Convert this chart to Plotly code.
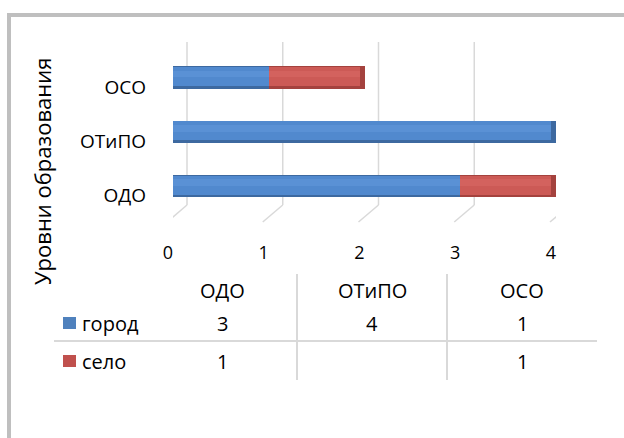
import plotly.graph_objects as go

# --- data -------------------------------------------------------------
levels = ["ОДО", "ОТиПО", "ОСО"]          # уровни образования
series_names = ["город", "село"]
city = [3, 4, 1]
village = [1, None, 1]
x_ticks = [0, 1, 2, 3, 4]

# --- canvas -----------------------------------------------------------
W, H = 624, 438
FONT = "Open Sans"
TXT = "#000000"


def px(x):
    return x / W


def py(y):
    return 1 - y / H


# shades for the cylinder look: dark lower rim, body, soft highlight
blue = ("#3D69A0", "#5189CE", "#5A91D5")
red = ("#A4423E", "#CC5A56", "#D3625E")
swatch = ["#4F81BD", "#C0504D"]

ys = list(range(len(levels)))
village_vals = [v if v is not None else 0 for v in village]
CAP = 0.05  # length of the shaded end cap, in axis units

fig = go.Figure()


def cylinder(values, base, shades, is_last):
    dark, body, light = shades
    ends = [b + v for b, v in zip(base, values)]
    fig.add_trace(go.Bar(y=ys, x=values, base=base, orientation="h",
                         width=0.41, offset=-0.21, marker_color=dark,
                         marker_line_width=0, hoverinfo="skip"))
    fig.add_trace(go.Bar(y=ys, x=values, base=base, orientation="h",
                         width=0.35, offset=-0.16, marker_color=body,
                         marker_line_width=0, hoverinfo="skip"))
    fig.add_trace(go.Bar(y=ys, x=values, base=base, orientation="h",
                         width=0.12, offset=0.0, marker_color=light,
                         marker_line_width=0, hoverinfo="skip"))
    # darker rim where the stacked cylinder ends
    cap_len = [CAP if (v and last) else 0 for v, last in zip(values, is_last)]
    cap_base = [e - c for e, c in zip(ends, cap_len)]
    fig.add_trace(go.Bar(y=ys, x=cap_len, base=cap_base, orientation="h",
                         width=0.41, offset=-0.21, marker_color=dark,
                         marker_line_width=0, hoverinfo="skip"))


cylinder(city, [0] * len(city), blue, [not v for v in village_vals])
cylinder(village_vals, city, red, [True] * len(village_vals))

# back-wall gridlines and floor edges (3-D look), anchored to the x values
shapes = []
for v in x_ticks:
    shapes.append(dict(type="line", xref="x", yref="paper",
                       xsizemode="pixel", xanchor=v, x0=14, x1=14,
                       y0=py(42), y1=py(205),
                       line=dict(color="#D9D9D9", width=1.5), layer="below"))
    shapes.append(dict(type="line", xref="x", yref="paper",
                       xsizemode="pixel", xanchor=v, x0=14, x1=-6,
                       y0=py(205), y1=py(222),
                       line=dict(color="#D9D9D9", width=1.5), layer="below"))

# chart frame
shapes.append(dict(type="rect", xref="paper", yref="paper",
                   x0=px(9), y0=py(15), x1=1.05, y1=-0.05,
                   line=dict(color="#BFBFBF", width=4)))

# data table lines
shapes.append(dict(type="line", xref="paper", yref="paper",
                   x0=px(54), x1=px(597), y0=py(341), y1=py(341),
                   line=dict(color="#D9D9D9", width=2)))
for sx in (297, 447):
    shapes.append(dict(type="line", xref="paper", yref="paper",
                       x0=px(sx), x1=px(sx), y0=py(274), y1=py(380),
                       line=dict(color="#D9D9D9", width=2)))

TABLE_FONT = dict(family=FONT, size=20, color=TXT)

annotations = []
col_x = [222, 372, 522]
for cx, name in zip(col_x, levels):
    annotations.append(dict(x=px(cx), y=py(290), xref="paper", yref="paper",
                            xanchor="center", yanchor="middle",
                            text=name, showarrow=False, font=TABLE_FONT))

row_y = [323, 361]
rows = [city, village]
for ry, name, vals, col in zip(row_y, series_names, rows, swatch):
    shapes.append(dict(type="rect", xref="paper", yref="paper",
                       x0=px(63), x1=px(76), y0=py(ry - 6), y1=py(ry + 6),
                       fillcolor=col, line_width=0))
    annotations.append(dict(x=px(80), y=py(ry), xref="paper", yref="paper",
                            xanchor="left", yanchor="middle",
                            text=name, showarrow=False, font=TABLE_FONT))
    for cx, v in zip(col_x, vals):
        if v is None:
            continue
        annotations.append(dict(x=px(cx), y=py(ry), xref="paper", yref="paper",
                                xanchor="center", yanchor="middle",
                                text=str(v), showarrow=False, font=TABLE_FONT))

# axis title
annotations.append(dict(x=px(42), y=py(172), xref="paper", yref="paper",
                        xanchor="center", yanchor="middle",
                        text="Уровни образования", showarrow=False,
                        textangle=-90,
                        font=dict(family=FONT, size=22, color=TXT)))

fig.update_layout(
    width=W, height=H,
    margin=dict(l=0, r=0, t=0, b=0),
    paper_bgcolor="white", plot_bgcolor="rgba(0,0,0,0)",
    barmode="overlay", bargap=0,
    showlegend=False,
    shapes=shapes,
    annotations=annotations,
    xaxis=dict(domain=[px(173), px(556)], range=[0, 4], automargin=False,
               tickvals=x_ticks, ticks="", showgrid=False, zeroline=False,
               showline=False, ticklabelshift=-5, ticklabelstandoff=27,
               tickfont=dict(family=FONT, size=18, color=TXT)),
    yaxis=dict(domain=[py(213), py(50)], range=[-0.5, 2.5], automargin=False,
               tickvals=ys, ticktext=levels, ticks="", showgrid=False,
               zeroline=False, showline=False, ticklabelshift=10,
               ticklabelstandoff=26,
               tickfont=dict(family=FONT, size=19, color=TXT)),
)

fig.write_html("out.html")
